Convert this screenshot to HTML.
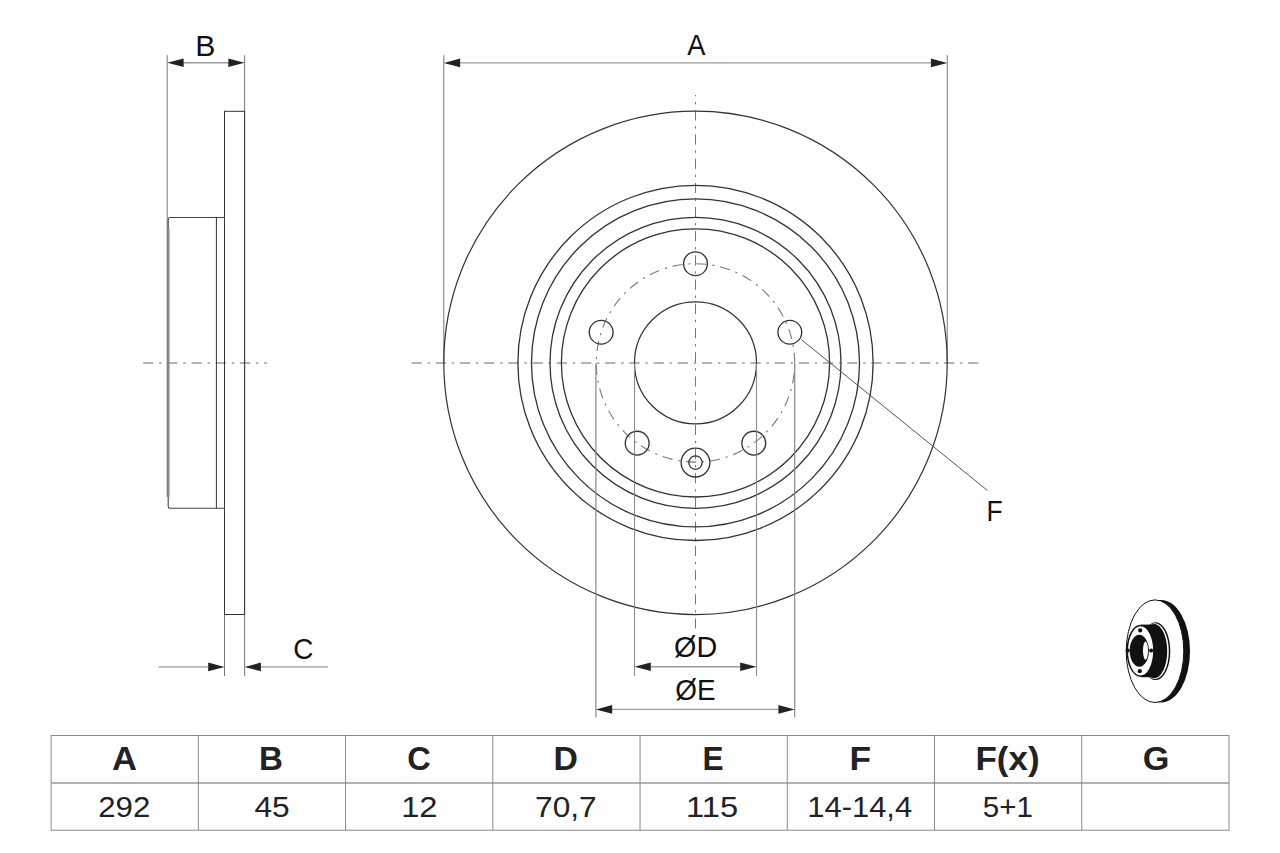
<!DOCTYPE html>
<html><head><meta charset="utf-8"><style>
html,body{margin:0;padding:0;background:#fff;}
body{width:1280px;height:853px;overflow:hidden;}
svg{display:block;font-family:"Liberation Sans",sans-serif;}
</style></head><body>
<svg width="1280" height="853" viewBox="0 0 1280 853">
<rect width="1280" height="853" fill="#fff"/>
<line x1="143.1" y1="363.0" x2="267" y2="363.0" stroke="#999" stroke-width="1.4" stroke-dasharray="10.2 5.8 2.4 5.8"/>
<line x1="167.2" y1="55.2" x2="167.2" y2="497" stroke="#777" stroke-width="1"/>
<line x1="244.6" y1="55.2" x2="244.6" y2="676" stroke="#777" stroke-width="1"/>
<rect x="224.5" y="111.3" width="20.1" height="503.2" fill="none" stroke="#333" stroke-width="1"/>
<path d="M224.5,217.5 L170,217.5 Q168.2,217.5 168.2,219.5 L168.2,506.3 Q168.2,508.3 170,508.3 L224.5,508.3" fill="none" stroke="#444" stroke-width="1.1"/>
<line x1="169.0" y1="228" x2="169.0" y2="497" stroke="#999" stroke-width="1.3"/>
<line x1="216.4" y1="217.5" x2="216.4" y2="508.3" stroke="#333" stroke-width="1"/>
<line x1="183.3" y1="62.8" x2="228.6" y2="62.8" stroke="#9a9a9a" stroke-width="1.4"/>
<polygon points="167.3,62.8 183.60000000000002,58.5 183.60000000000002,67.1" fill="#222"/>
<polygon points="244.6,62.8 228.29999999999998,58.5 228.29999999999998,67.1" fill="#222"/>
<text x="205.3" y="55.8" font-size="29.5" font-weight="normal" text-anchor="middle" fill="#111" transform="translate(205.88,0) scale(1.0248,1) translate(-205.88,0)">B</text>
<line x1="158.5" y1="666.9" x2="208.5" y2="666.9" stroke="#9a9a9a" stroke-width="1.4"/>
<line x1="260.6" y1="666.9" x2="328.2" y2="666.9" stroke="#9a9a9a" stroke-width="1.4"/>
<polygon points="224.5,666.9 208.2,662.6 208.2,671.1999999999999" fill="#222"/>
<polygon points="244.6,666.9 260.9,662.6 260.9,671.1999999999999" fill="#222"/>
<line x1="224.5" y1="614.5" x2="224.5" y2="676" stroke="#777" stroke-width="1"/>
<text x="303.25" y="658.7" font-size="29.5" font-weight="normal" text-anchor="middle" fill="#111" transform="translate(303.25,0) scale(0.9424,1) translate(-303.28,0)">C</text>
<line x1="443.8" y1="55.2" x2="443.8" y2="363" stroke="#777" stroke-width="1"/>
<line x1="947.25" y1="55.2" x2="947.25" y2="363" stroke="#777" stroke-width="1"/>
<line x1="459.8" y1="62.9" x2="931.25" y2="62.9" stroke="#9a9a9a" stroke-width="1.4"/>
<polygon points="443.8,62.9 460.1,58.6 460.1,67.2" fill="#222"/>
<polygon points="947.25,62.9 930.95,58.6 930.95,67.2" fill="#222"/>
<text x="696.2" y="55.5" font-size="29.5" font-weight="normal" text-anchor="middle" fill="#111" transform="translate(696.20,0) scale(0.9229,1) translate(-696.13,0)">A</text>
<line x1="411.6" y1="363.0" x2="978.5" y2="363.0" stroke="#999" stroke-width="1.4" stroke-dasharray="10.2 5.8 2.4 5.8"/>
<line x1="695.5" y1="95" x2="695.5" y2="628.5" stroke="#777" stroke-width="1" stroke-dasharray="10.2 5.8 2.4 5.8" stroke-dashoffset="9.0"/>
<circle cx="695.5" cy="362.9" r="251.7" fill="none" stroke="#333" stroke-width="1.2"/>
<circle cx="695.5" cy="362.9" r="177.6" fill="none" stroke="#333" stroke-width="1.3"/>
<circle cx="695.5" cy="362.9" r="164.0" fill="none" stroke="#333" stroke-width="1.3"/>
<circle cx="695.5" cy="362.9" r="145.5" fill="none" stroke="#333" stroke-width="1.3"/>
<circle cx="695.5" cy="362.9" r="134.1" fill="none" stroke="#333" stroke-width="1.3"/>
<circle cx="695.5" cy="362.9" r="61.0" fill="none" stroke="#333" stroke-width="1.2"/>
<circle cx="695.5" cy="362.9" r="99.2" fill="none" stroke="#7a7a7a" stroke-width="1.1" stroke-dasharray="10.2 5.83 2.2 5.83" stroke-dashoffset="13.64"/>
<circle cx="695.50" cy="263.70" r="11.9" fill="none" stroke="#333" stroke-width="1.3"/>
<circle cx="789.84" cy="332.25" r="11.9" fill="none" stroke="#333" stroke-width="1.3"/>
<circle cx="753.81" cy="443.15" r="11.9" fill="none" stroke="#333" stroke-width="1.3"/>
<circle cx="637.19" cy="443.15" r="11.9" fill="none" stroke="#333" stroke-width="1.3"/>
<circle cx="601.16" cy="332.25" r="11.9" fill="none" stroke="#333" stroke-width="1.3"/>
<circle cx="695.5" cy="462.6" r="14.4" fill="none" stroke="#333" stroke-width="1.3"/>
<circle cx="695.5" cy="462.6" r="6.7" fill="none" stroke="#333" stroke-width="1.3"/>
<line x1="634.55" y1="363" x2="634.55" y2="676" stroke="#858585" stroke-width="1"/>
<line x1="756.55" y1="363" x2="756.55" y2="676" stroke="#858585" stroke-width="1"/>
<line x1="595.9" y1="363" x2="595.9" y2="717.5" stroke="#888" stroke-width="1.2"/>
<line x1="794.7" y1="363" x2="794.7" y2="717.5" stroke="#888" stroke-width="1.2"/>
<line x1="650.5" y1="666.8" x2="740.5" y2="666.8" stroke="#9a9a9a" stroke-width="1.4"/>
<polygon points="634.5,666.8 650.8,662.5 650.8,671.0999999999999" fill="#222"/>
<polygon points="756.5,666.8 740.2,662.5 740.2,671.0999999999999" fill="#222"/>
<text x="695.7" y="656.8" font-size="29.5" font-weight="normal" text-anchor="middle" fill="#111" transform="translate(695.70,0) scale(0.9741,1) translate(-695.79,0)">ØD</text>
<line x1="611.9" y1="709.4" x2="778.7" y2="709.4" stroke="#9a9a9a" stroke-width="1.4"/>
<polygon points="595.9,709.4 612.1999999999999,705.1 612.1999999999999,713.6999999999999" fill="#222"/>
<polygon points="794.7,709.4 778.4000000000001,705.1 778.4000000000001,713.6999999999999" fill="#222"/>
<text x="695.6" y="699.7" font-size="29.5" font-weight="normal" text-anchor="middle" fill="#111" transform="translate(695.60,0) scale(0.9448,1) translate(-695.87,0)">ØE</text>
<line x1="801.4" y1="339.6" x2="987.5" y2="490.5" stroke="#555" stroke-width="1"/>
<text x="994.4" y="521.0" font-size="29.5" font-weight="normal" text-anchor="middle" fill="#111" transform="translate(995.50,0) scale(0.8977,1) translate(-995.28,0)">F</text>
<g>
<ellipse cx="1161" cy="651.2" rx="29" ry="51.3" fill="#111"/>
<ellipse cx="1155" cy="651.2" rx="28.8" ry="51.3" fill="#fff" stroke="#111" stroke-width="1"/>
<ellipse cx="1155.6" cy="651.2" rx="14.7" ry="28.9" fill="#111"/>
<ellipse cx="1154.9" cy="651.2" rx="13.9" ry="27.9" fill="#fff"/>
<ellipse cx="1154.2" cy="651.2" rx="13.0" ry="27.1" fill="#111"/>
<rect x="1140.8" y="624.6" width="13.6" height="52.6" fill="#111"/>
<ellipse cx="1140.6" cy="650.8" rx="13.3" ry="25.4" fill="#fff" stroke="#111" stroke-width="1.5"/>
<ellipse cx="1139.3" cy="650.8" rx="9.6" ry="16" fill="#111"/>
<ellipse cx="1145.5" cy="650.6" rx="2.5" ry="9.2" fill="#fff"/>
<circle cx="1140.2" cy="630.4" r="2.1" fill="#111"/>
<circle cx="1151.2" cy="650.6" r="2.1" fill="#111"/>
<circle cx="1139.8" cy="671.2" r="2.1" fill="#111"/>
<circle cx="1127.8" cy="650.6" r="2.1" fill="#111"/>
</g>
<rect x="51.1" y="735.5" width="1177.9" height="94.75" fill="none" stroke="#8a8a8a" stroke-width="1"/>
<line x1="51.1" y1="782.9" x2="1229.0" y2="782.9" stroke="#999" stroke-width="1.5"/>
<line x1="198.3375" y1="735.5" x2="198.3375" y2="830.25" stroke="#8a8a8a" stroke-width="1"/>
<line x1="345.57500000000005" y1="735.5" x2="345.57500000000005" y2="830.25" stroke="#8a8a8a" stroke-width="1"/>
<line x1="492.81250000000006" y1="735.5" x2="492.81250000000006" y2="830.25" stroke="#8a8a8a" stroke-width="1"/>
<line x1="640.0500000000001" y1="735.5" x2="640.0500000000001" y2="830.25" stroke="#8a8a8a" stroke-width="1"/>
<line x1="787.2875" y1="735.5" x2="787.2875" y2="830.25" stroke="#8a8a8a" stroke-width="1"/>
<line x1="934.5250000000001" y1="735.5" x2="934.5250000000001" y2="830.25" stroke="#8a8a8a" stroke-width="1"/>
<line x1="1081.7625" y1="735.5" x2="1081.7625" y2="830.25" stroke="#8a8a8a" stroke-width="1"/>
<text x="124.72" y="770.4" font-size="33" font-weight="bold" text-anchor="middle" fill="#222" transform="translate(124.60,0) scale(1.0471,1) translate(-124.86,0)">A</text>
<text x="124.72" y="817.2" font-size="30" font-weight="normal" text-anchor="middle" fill="#222" transform="translate(124.15,0) scale(1.0396,1) translate(-124.62,0)">292</text>
<text x="271.96" y="770.4" font-size="33" font-weight="bold" text-anchor="middle" fill="#222" transform="translate(271.35,0) scale(1.0052,1) translate(-272.36,0)">B</text>
<text x="271.96" y="817.2" font-size="30" font-weight="normal" text-anchor="middle" fill="#222" transform="translate(271.90,0) scale(1.0576,1) translate(-271.81,0)">45</text>
<text x="419.19" y="770.4" font-size="33" font-weight="bold" text-anchor="middle" fill="#222" transform="translate(419.10,0) scale(0.9840,1) translate(-419.41,0)">C</text>
<text x="419.19" y="817.2" font-size="30" font-weight="normal" text-anchor="middle" fill="#222" transform="translate(420.05,0) scale(1.0895,1) translate(-419.80,0)">12</text>
<text x="566.43" y="770.4" font-size="33" font-weight="bold" text-anchor="middle" fill="#222" transform="translate(566.25,0) scale(1.0235,1) translate(-566.97,0)">D</text>
<text x="566.43" y="817.2" font-size="30" font-weight="normal" text-anchor="middle" fill="#222" transform="translate(565.95,0) scale(1.0551,1) translate(-566.51,0)">70,7</text>
<text x="713.67" y="770.4" font-size="33" font-weight="bold" text-anchor="middle" fill="#222" transform="translate(713.75,0) scale(0.9568,1) translate(-714.36,0)">E</text>
<text x="713.67" y="817.2" font-size="30" font-weight="normal" text-anchor="middle" fill="#222" transform="translate(712.75,0) scale(1.0889,1) translate(-714.33,0)">115</text>
<text x="860.91" y="770.4" font-size="33" font-weight="bold" text-anchor="middle" fill="#222" transform="translate(860.90,0) scale(1.0691,1) translate(-861.44,0)">F</text>
<text x="860.91" y="817.2" font-size="30" font-weight="normal" text-anchor="middle" fill="#222" transform="translate(860.40,0) scale(1.0314,1) translate(-861.57,0)">14-14,4</text>
<text x="1008.14" y="770.4" font-size="33" font-weight="bold" text-anchor="middle" fill="#222" transform="translate(1007.95,0) scale(1.0589,1) translate(-1008.55,0)">F(x)</text>
<text x="1008.14" y="817.2" font-size="30" font-weight="normal" text-anchor="middle" fill="#222" transform="translate(1007.88,0) scale(0.9850,1) translate(-1008.12,0)">5+1</text>
<text x="1155.38" y="770.4" font-size="33" font-weight="bold" text-anchor="middle" fill="#222" transform="translate(1155.75,0) scale(1.0385,1) translate(-1155.01,0)">G</text>
</svg>
</body></html>
